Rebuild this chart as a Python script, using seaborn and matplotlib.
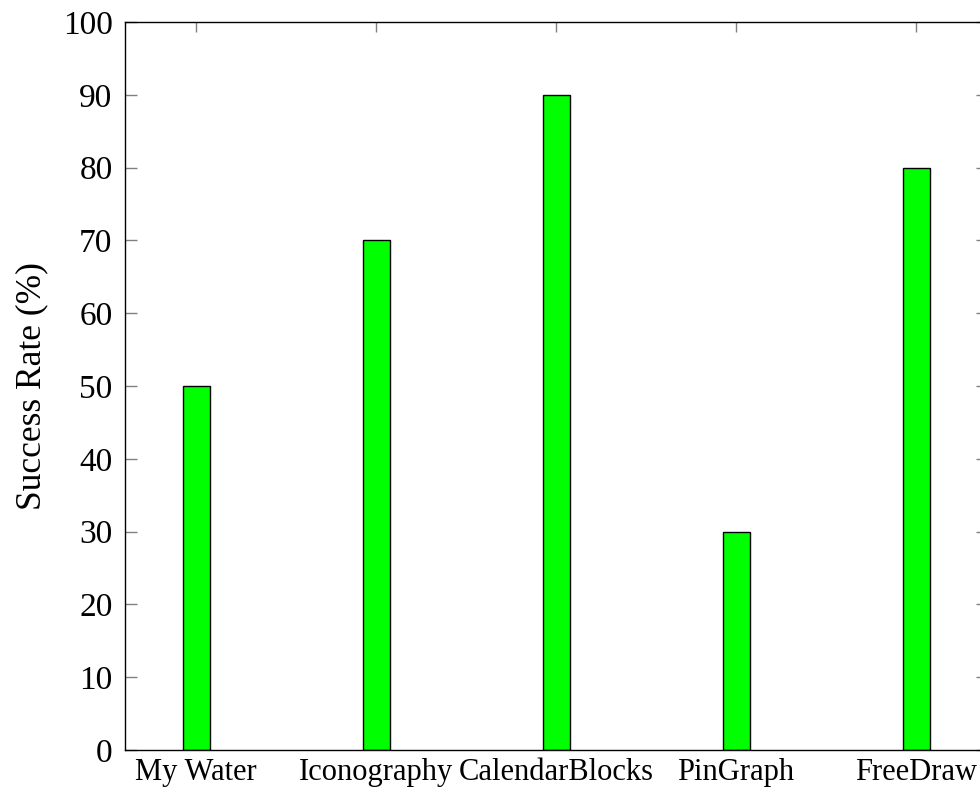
import matplotlib
matplotlib.use('Agg')
import matplotlib.pyplot as plt
import seaborn as sns
import pandas as pd

# data
apps = ['My Water', 'Iconography', 'CalendarBlocks', 'PinGraph', 'FreeDraw']
success_rate = [50, 70, 90, 30, 80]

df = pd.DataFrame({'app': apps, 'rate': success_rate})

sns.set_style('white')
plt.rcParams['font.family'] = ['Liberation Serif', 'DejaVu Serif']
plt.rcParams['text.color'] = 'black'
plt.rcParams['axes.labelcolor'] = 'black'
plt.rcParams['xtick.labelcolor'] = 'black'
plt.rcParams['ytick.labelcolor'] = 'black'

fig = plt.figure(figsize=(9.8, 7.91), dpi=100)
# axes box: left 125px, top 22px, bottom 750px, right edge just past the image
ax = fig.add_axes([125 / 980, (791 - 750) / 791, (988 - 125) / 980, (750 - 22) / 791])

sns.barplot(data=df, x='app', y='rate', ax=ax, color='#00ff00', width=0.15,
            edgecolor='black', linewidth=1.0, saturation=1)

ax.set_xlim(-71 / 180, 4 + 72 / 180)
ax.set_ylim(0, 100)
ax.set_yticks(range(0, 101, 10))

for s in ax.spines.values():
    s.set_visible(True)
    s.set_color('black')
    s.set_linewidth(1.0)

ax.tick_params(axis='y', direction='in', length=8.5, width=1, color='#808080',
               left=True, right=True, labelsize=24, pad=9)
ax.tick_params(axis='x', direction='in', length=7.5, width=1, color='#808080',
               bottom=True, top=True, labelsize=22, pad=6)

ax.set_xlabel('')
ax.set_ylabel('Success Rate (%)', fontsize=25.5, labelpad=10)

plt.savefig('out.png', dpi=100)
